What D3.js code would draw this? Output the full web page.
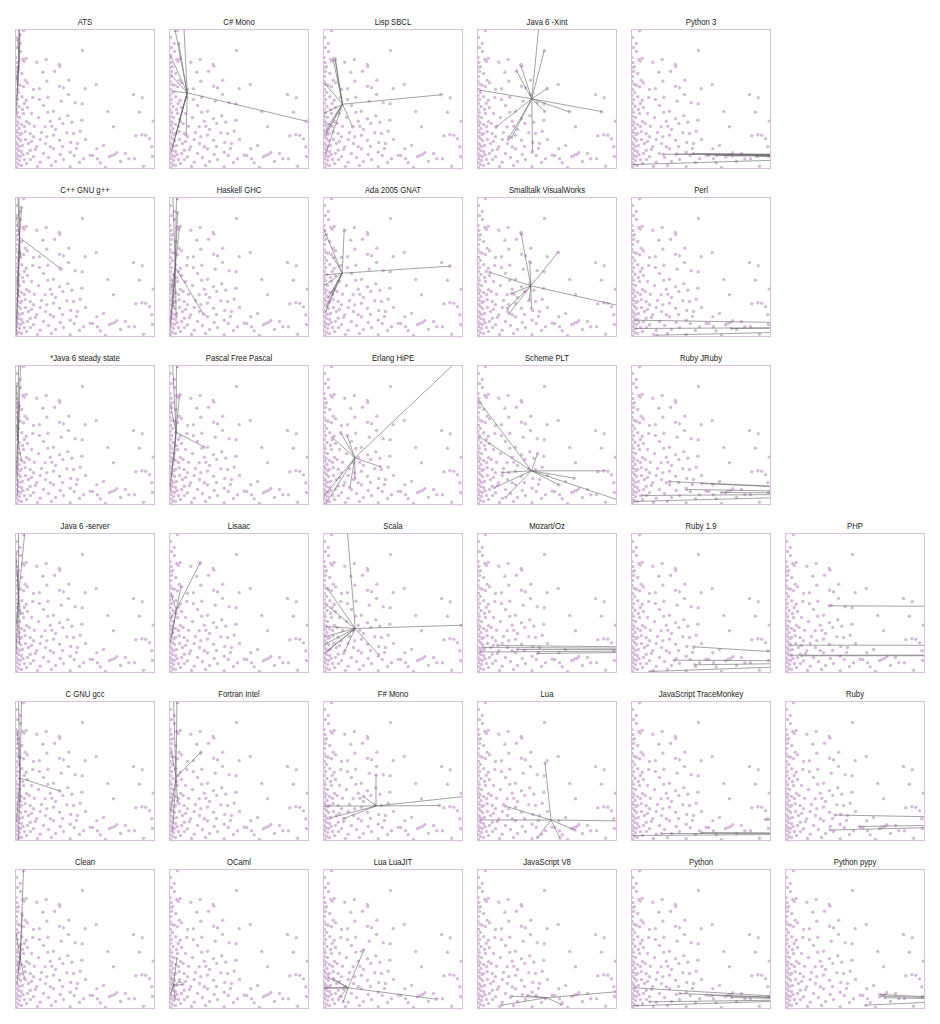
<!DOCTYPE html>
<html><head><meta charset="utf-8">
<script src="https://cdn.jsdelivr.net/npm/d3@7"></script>
<style>body{margin:0;background:#fff}svg{display:block}</style>
</head><body>
<script>
// ---- data ----
const languages = [
  "ATS","C# Mono","Lisp SBCL","Java 6 -Xint","Python 3",
  "C++ GNU g++","Haskell GHC","Ada 2005 GNAT","Smalltalk VisualWorks","Perl",
  "*Java 6 steady state","Pascal Free Pascal","Erlang HiPE","Scheme PLT","Ruby JRuby",
  "Java 6 -server","Lisaac","Scala","Mozart/Oz","Ruby 1.9","PHP",
  "C GNU gcc","Fortran Intel","F# Mono","Lua","JavaScript TraceMonkey","Ruby",
  "Clean","OCaml","Lua LuaJIT","JavaScript V8","Python","Python pypy"
];
const rowSizes = [5,5,5,6,6,6];

// all benchmark points (x, y measured downward)
const allPoints = [
 [8,1.3],[4.7,14],[67,21],[7.3,30],[10.7,29],[8.7,31.7],[21.3,32.7],[30.7,30],[43.7,35],[44.3,36.7],
 [39,41.7],[27.3,42.7],[12,53.3],[31.3,51.7],[53.3,50.7],[80.7,55],[69.7,59.3],[44,56.7],[48,58.3],[18,60],
 [24,59.3],[118,65],[126.7,68.3],[53,65],[45.7,71.7],[32.3,67.7],[24,70],[17.3,68],[59.7,73.3],[66.7,74.3],
 [92.3,82],[124,82.7],[32.3,82.7],[38,81.7],[52.3,86.3],[66.3,90.7],[44,89.3],[34.7,91.7],[137.7,91.7],[29.7,97.3],
 [36.3,96.7],[47.3,94],[56.3,92.7],[13.7,94],[19,96.7],[64.7,101.7],[58,104],[51.3,103.3],[98,97.3],[120.3,106.3],
 [126.3,105.3],[38,105.7],[31.3,107.3],[24.7,110],[18,107.3],[44,110.7],[55.3,113],[62,114],[81.3,119.3],[74.7,125.7],
 [77.3,126],[96.3,126],[99,125],[101.3,123.3],[94,127.3],[113.3,129.3],[119,129.3],[130.3,105.7],[134,109.3],[136.3,117.3],
 [84.7,133.3],[82,129.3],[68,129.3],[44.7,125],[38,119.3],[34.7,117.3],[54.7,122.7],[58.7,126],[24.7,132.7],[18,127.3],
 [128,136.7],[54.7,137.3],[28,124],[14.7,120.7],[13,114],[21.3,117.3],[9.7,102.3],[14.7,104],[8,84],[8.7,74],
 [6.3,67.3],[10.7,70.7],[4.7,55.7],[8,57.3],[9.7,50.7],[6.3,44],[3,37.3],
 [0.5,28],[1.5,33],[0.8,38],[2,42],[1,47],[0.5,52],[2.5,55],[1,60],[3,63],[0.5,66],
 [2,70],[1,74],[3.5,77],[0.5,80],[2,83],[1,87],[4,88],[0.5,91],[2.5,93],[1.5,96],
 [3.5,99],[0.5,101],[2,103],[4.5,105],[1,107],[3,109],[5,111],[0.5,113],[2,115],[4,117],
 [1,119],[3,121],[6,122],[0.5,124],[2.5,126],[5,127],[1.5,129],[4,131],[0.5,133],[3,135],
 [6,136],[1,138],[7,80],[6,95],[7.5,125],[9,130],[11,134],[5,22],[2,18],[1,8],
 [10,110],[12,124],[16,112],[20,120],[26,103],[30,114],[33,128],[40,132],[47,117],[61,119],
 [70,110],[88,116],[105,132],[110,124],[23,88],[16,84],[11,92],[28,76],[40,100],[48,130],
 [7,116],[9,97],[12,78],[15,130],[6,104],[22,137],[36,136],[64,133],[90,138],[137,127]
];

// star centre of each language
const centroids = [
 [3.5,30],[17.7,63.3],[19,74.7],[54.3,69.3],[300,126],
 [4,40],[5.7,69.7],[18.7,75.7],[53.3,88.3],[400,129],
 [2.5,74.5],[6.5,66.5],[31.3,92.3],[54,105.3],[300,128],
 [3,63],[6.7,76.3],[31.7,95],[400,116],[300,128],[10000,116],
 [4.5,76.5],[6.5,75.5],[52.5,104.5],[73.5,118.5],[300,132],[400,120],
 [4.7,89],[4,115.7],[24.7,118.3],[69,128.3],[200,130],[200,130]
];

// each language's benchmark points
const langPoints = [
 [[4,-20],[3.5,0],[2,10],[1,50],[0.5,85],[2,60],[3,40],[1.5,70],[4.5,5]],
 [[136.7,91.7],[5.7,1],[14.3,-5],[9.3,14],[1,26],[4,62],[1.7,122],[3.3,117],[6.7,104],[16.7,105.7],[10,90],[2,46]],
 [[117.3,65.3],[11.3,29],[9.7,30],[12,30],[1.3,54],[29,97.3],[2.3,105.7],[3,102],[2.3,124],[4.7,95.7],[0.3,84]],
 [[62,-10],[66.7,21.3],[43.3,35.7],[39,41.3],[69.7,59],[2.3,60.7],[124,82],[91.7,82.3],[67.3,82],[18.3,97.7],[30.7,110],[34,108.3],[55,121.7]],
 [[31.7,124.7],[61.7,124],[75,125.5],[85,126],[100,126.5],[1.7,135],[125,127],[45,124.5]],
 [[44.7,70.7],[2,-10],[3.5,-5],[1,20],[5,60],[3,99],[1.3,122],[0.7,137],[2,85],[6,10]],
 [[34,116.7],[3.3,-5],[7,-2],[10,29],[8,15],[0,135.7],[1.7,122],[4,109],[6.7,119],[2,90]],
 [[126.3,68.7],[20.7,32.7],[0.7,32.7],[-2,77.7],[-1,89],[2,114.3],[3,109],[5,100],[8,95],[10,60]],
 [[43.3,35],[80.7,54.7],[12.3,74.7],[145,109],[52.3,64.3],[54,111],[34,96],[31.7,116],[30,111],[51.7,102.7]],
 [[3.3,122.7],[3.3,131],[25,137.7],[100,131]],
 [[3,-5],[5,0],[1,20],[4,40],[0.5,110],[2,130],[6,95],[1,60]],
 [[34.5,81.5],[3,-5],[7,-3],[1,40],[2,110],[0.5,125],[5,95],[10,30]],
 [[150,-20],[9,72],[17.3,67],[23.7,70.3],[57,101.3],[26.3,122.3],[31.3,113],[0.7,130.3],[2.3,138]],
 [[1.3,35.7],[1.7,71.3],[60,88],[126.7,105.3],[96.7,112.7],[81.3,119.3],[145,136],[24.7,107],[16.7,122.3],[28.3,131.7]],
 [[38,116],[10,130],[55,124],[70,118],[2,136],[90,127]],
 [[9.7,-5],[3,-2],[0.5,20],[2,40],[1,90],[4,110],[0.5,120],[5,80]],
 [[30.7,29],[11.7,53],[1.7,61.3],[0,113],[3,100],[1,85]],
 [[23.7,-5],[145,91.5],[3.7,54.7],[2.7,71.3],[2.7,93],[1,103],[1,111],[1,120],[4,117],[55.3,121.3],[21,118]],
 [[2,118.5],[20,112],[5,114],[40,116],[60,120]],
 [[62.3,113.3],[42.7,126.7],[63.3,131.3],[18.3,138]],
 [[43.7,72.3],[4.3,111.7],[4.3,121.7],[16,122.3]],
 [[44.5,89.5],[3,-3],[6,0],[2,30],[1,120],[3,138],[5,100]],
 [[31.5,50.5],[7.5,-2],[4,-2],[1,110],[3,130],[8,100],[2,50]],
 [[150,94],[52.5,73.5],[1.5,104.5],[6.5,116.5],[20,117],[116,104],[40,95]],
 [[67.5,61.5],[2.5,118.5],[150,119.5],[27.5,104.5],[97.5,128.5],[82.5,136.5],[60,136]],
 [[2,134],[30,132],[70,131],[134,118]],
 [[49.5,113.5],[44.5,128.5],[74,125]],
 [[8,0.7],[6.7,45.7],[0.7,64],[1.3,114],[9,109],[3,100],[5,75],[2,95]],
 [[7.3,89],[13.3,115],[0.7,125.7],[5.7,129.7],[1.7,109],[10,112]],
 [[40.3,80.3],[113,129.7],[0.3,119],[4.7,108],[9.7,109],[19.7,132.3],[16.3,127.3],[1,118]],
 [[138.3,122.3],[34,126.7],[24,135.7],[84,135],[50,126]],
 [[2.3,118.3],[18.3,132.3],[1.7,136.3],[48.3,124],[80,126],[100,128]],
 [[94.3,125],[99.3,128.3],[80.3,135.7],[95,126.5]]
];

// ---- layout ----
const W = 940, H = 1024;
const size = 139, colStep = 154, rowStep = 168, left0 = 15.5, top0 = 29.5;
const svg = d3.select("body").append("svg").attr("width", W).attr("height", H);

const x = d3.scaleLinear().domain([0, 139]).range([0, size]);
const y = d3.scaleLinear().domain([0, 139]).range([0, size]);

const frameColor = "#d9c0dd", dotColor = "#d6bcda";

let idx = 0;
const cells = [];
rowSizes.forEach((n, r) => { for (let c = 0; c < n; c++) cells.push({r, c, i: idx++}); });

cells.forEach(({r, c, i}) => {
  const g = svg.append("g").attr("transform", `translate(${left0 + c*colStep},${top0 + r*rowStep})`);
  const cid = "clip" + i;
  g.append("clipPath").attr("id", cid).append("rect").attr("width", size).attr("height", size);
  g.append("text").attr("transform", `translate(${size/2},-5) scale(0.86,1)`).attr("text-anchor", "middle")
    .style("font-family", "'Liberation Sans',Arial,sans-serif")
    .style("font-size", "9px").attr("fill", "#222").text(languages[i]);
  const inner = g.append("g").attr("clip-path", `url(#${cid})`);
  inner.selectAll("circle.bg").data(allPoints).join("circle").attr("class","bg")
    .attr("cx", d => x(d[0])).attr("cy", d => y(d[1])).attr("r", 1.7).attr("fill", dotColor);
  inner.selectAll("circle.own").data(langPoints[i]).join("circle").attr("class","own")
    .attr("cx", d => x(d[0])).attr("cy", d => y(d[1])).attr("r", 1.7).attr("fill", dotColor);
  const ctr = centroids[i];
  inner.selectAll("line").data(langPoints[i]).join("line")
    .attr("x1", x(ctr[0])).attr("y1", y(ctr[1]))
    .attr("x2", d => x(d[0])).attr("y2", d => y(d[1]))
    .attr("stroke", "#666").attr("stroke-opacity", 0.6).attr("stroke-width", 1);
  g.append("rect").attr("x", 0).attr("y", 0).attr("width", size).attr("height", size)
    .attr("fill", "none").attr("stroke", frameColor).attr("stroke-width", 1);
});
</script>
</body></html>
